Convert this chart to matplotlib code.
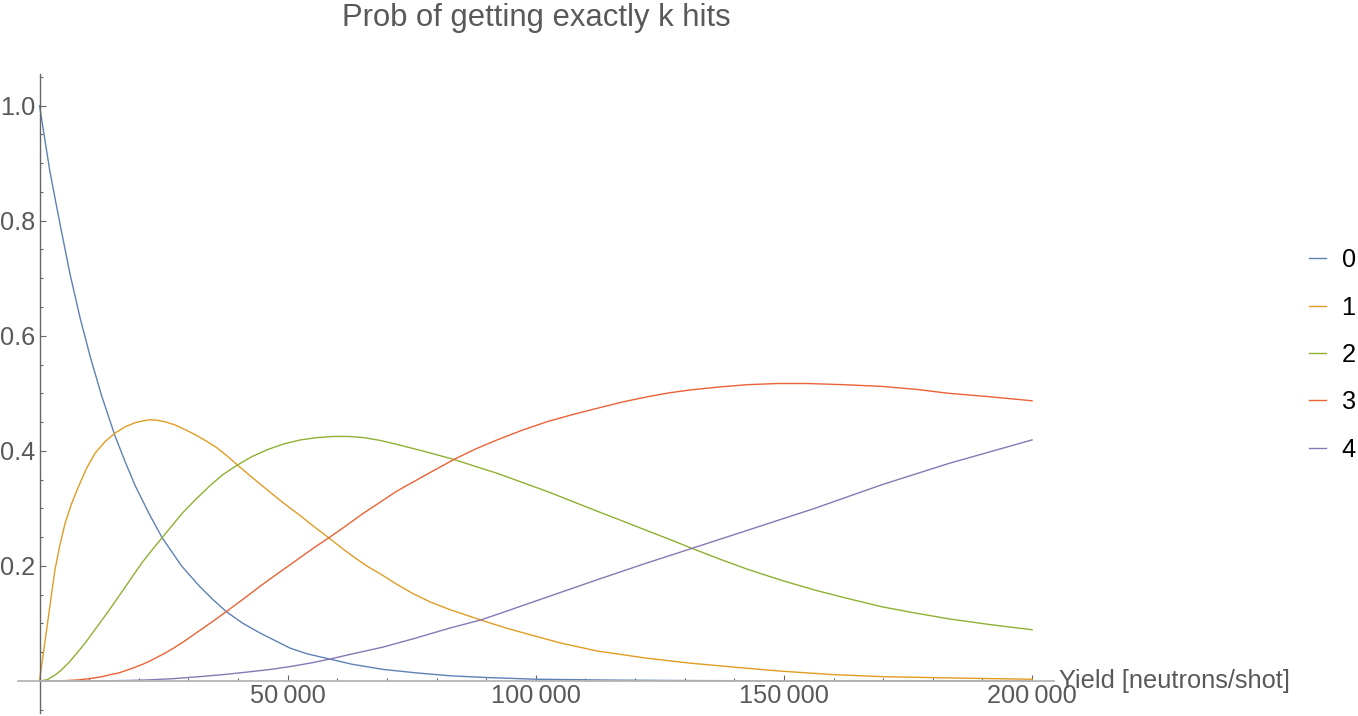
import matplotlib
matplotlib.use("Agg")
import matplotlib.pyplot as plt
from matplotlib.ticker import FixedLocator, MultipleLocator

plt.rcParams["font.family"] = ["Liberation Sans", "DejaVu Sans"]

# Values (yield in neutrons/shot)
k0_x = [0, 1000, 2100, 3300, 4500, 6200, 8200, 10200, 12500, 15250, 17300,
        19300, 22000, 24700, 28700, 32300, 35000, 37700, 41000, 44500, 50500,
        54000, 58500, 63000, 69300, 76000, 82700, 90000, 100000, 115000,
        130000, 150000, 200000]
k0_y = [1.0, 0.945, 0.885, 0.831, 0.778, 0.705, 0.630, 0.564, 0.496, 0.425,
        0.380, 0.339, 0.292, 0.249, 0.199, 0.164, 0.141, 0.120, 0.100, 0.083,
        0.057, 0.047, 0.038, 0.029, 0.020, 0.014, 0.009, 0.006, 0.003, 0.0015,
        0.0007, 0.0002, 0.0]

k1_x = [0, 300, 730, 1200, 1800, 2400, 3100, 4100, 5150, 6400, 7850, 9500,
        11200, 13200, 15250, 17300, 19300, 20800, 22300, 23800, 25500, 27300,
        29300, 31400, 33600, 35800, 37800, 39800, 42800, 45900, 49200, 52600,
        55500, 58400, 61200, 63900, 66300, 68700, 72000, 75000, 78800, 82700,
        88900, 94000, 99000, 105000, 112400, 122000, 131000, 140000, 149500,
        160000, 169700, 185000, 200000]
k1_y = [0.0, 0.020, 0.045, 0.075, 0.112, 0.150, 0.193, 0.236, 0.274, 0.307,
        0.338, 0.370, 0.396, 0.416, 0.431, 0.442, 0.449, 0.452, 0.454, 0.453,
        0.450, 0.445, 0.437, 0.428, 0.417, 0.405, 0.391, 0.376, 0.354, 0.332,
        0.309, 0.287, 0.267, 0.248, 0.229, 0.212, 0.198, 0.186, 0.168, 0.153,
        0.137, 0.124, 0.106, 0.092, 0.080, 0.066, 0.052, 0.040, 0.031, 0.024,
        0.017, 0.011, 0.0075, 0.005, 0.003]

k2_x = [0, 1500, 3100, 4400, 5800, 7500, 9200, 10900, 12600, 14600, 16600,
        18600, 20600, 22700, 24700, 26700, 28700, 31400, 34400, 37000, 39800,
        42800, 45900, 49200, 52600, 55900, 59300, 62300, 65300, 68700, 72100,
        78000, 83500, 87800, 92200, 97300, 102400, 107400, 112400, 117500,
        122500, 127000, 131600, 137000, 142700, 149500, 156200, 163000,
        169700, 176500, 183200, 191500, 200000]
k2_y = [0.0, 0.002, 0.010, 0.019, 0.031, 0.048, 0.066, 0.086, 0.106, 0.130,
        0.155, 0.180, 0.205, 0.228, 0.249, 0.270, 0.291, 0.315, 0.340, 0.359,
        0.375, 0.390, 0.402, 0.412, 0.419, 0.423, 0.425, 0.425, 0.423, 0.418,
        0.411, 0.398, 0.385, 0.373, 0.361, 0.345, 0.329, 0.312, 0.295, 0.278,
        0.261, 0.246, 0.230, 0.212, 0.194, 0.175, 0.158, 0.143, 0.129, 0.118,
        0.108, 0.098, 0.089]

k3_x = [0, 5000, 8000, 10500, 12600, 14300, 16000, 17700, 19300, 20800,
        22300, 25000, 27000, 29000, 31000, 33000, 35300, 37700, 41000, 44500,
        48200, 51800, 55200, 58500, 61800, 65000, 68500, 72000, 77800, 83500,
        87800, 92200, 97300, 102400, 107400, 112400, 117500, 122500, 127000,
        131300, 137000, 142700, 148700, 154800, 162000, 169700, 176500,
        183200, 191500, 200000]
k3_y = [0.0, 0.0005, 0.002, 0.0045, 0.0075, 0.011, 0.014, 0.019, 0.024,
        0.029, 0.035, 0.047, 0.057, 0.068, 0.080, 0.092, 0.106, 0.121, 0.142,
        0.165, 0.188, 0.210, 0.231, 0.250, 0.270, 0.290, 0.310, 0.330, 0.358,
        0.385, 0.403, 0.419, 0.436, 0.451, 0.463, 0.474, 0.485, 0.494, 0.501,
        0.506, 0.511, 0.515, 0.517, 0.517, 0.515, 0.512, 0.507, 0.500, 0.494,
        0.487]

k4_x = [0, 10000, 15000, 18600, 22300, 27000, 32300, 37000, 42400, 46500,
        50500, 54500, 58500, 63000, 69300, 76000, 82700, 88900, 94000, 99000,
        105700, 112400, 122000, 131300, 142700, 156200, 169700, 183200, 200000]
k4_y = [0.0, 0.0, 0.0005, 0.001, 0.002, 0.004, 0.0075, 0.011, 0.016, 0.020,
        0.025, 0.031, 0.038, 0.047, 0.059, 0.075, 0.092, 0.106, 0.121, 0.136,
        0.156, 0.176, 0.204, 0.230, 0.262, 0.300, 0.341, 0.378, 0.419]

series_labels = ["0", "1", "2", "3", "4"]
x_tick_values = [50000, 100000, 150000, 200000]
x_tick_labels = ["50\u2009000", "100\u2009000", "150\u2009000", "200\u2009000"]
y_tick_values = [0.2, 0.4, 0.6, 0.8, 1.0]
y_tick_labels = ["0.2", "0.4", "0.6", "0.8", "1.0"]

# Mathematica default palette (ColorData[97])
COLORS = ["#5E81B5", "#E19C24", "#8FB032", "#EB6235", "#8778B3"]
TEXT_GRAY = "#595959"
FONT_TICK = 18.3
FONT_TITLE = 22.3

fig = plt.figure(figsize=(13.58, 7.16), dpi=100)
ax = fig.add_axes([18.2 / 1358, 0.00475, 1036.2 / 1358, 0.8919])

curves = [(k0_x, k0_y), (k1_x, k1_y), (k2_x, k2_y), (k3_x, k3_y), (k4_x, k4_y)]
for (xs, ys), color, label in zip(curves, COLORS, series_labels):
    ax.plot(xs, ys, color=color, lw=1.0, label=label, solid_joinstyle="round")

ax.set_xlim(-4300, 204500)
ax.set_ylim(-0.055, 1.055)

# Axes crossing at the origin, Mathematica style
for side in ("top", "right"):
    ax.spines[side].set_visible(False)
ax.spines["left"].set_position(("data", 0))
ax.spines["bottom"].set_position(("data", 0))
ax.spines["left"].set_color("#666666")
ax.spines["bottom"].set_color("#b5b5b5")
ax.spines["left"].set_linewidth(1.0)
ax.spines["bottom"].set_linewidth(1.3)

ax.xaxis.set_major_locator(FixedLocator(x_tick_values))
ax.xaxis.set_minor_locator(MultipleLocator(10000))
ax.set_xticklabels(x_tick_labels)
ax.yaxis.set_major_locator(FixedLocator(y_tick_values))
ax.yaxis.set_minor_locator(MultipleLocator(0.05))
ax.set_yticklabels(y_tick_labels)

ax.tick_params(which="both", direction="in", color="#666666", width=0.8,
               labelsize=FONT_TICK, labelcolor=TEXT_GRAY)
ax.tick_params(which="major", length=4)
ax.tick_params(which="minor", length=2.2)
ax.tick_params(axis="x", pad=2.5)
ax.tick_params(axis="y", pad=3)

# Axis label sits at the right end of the x axis
ax.text(1.004, 0.0, "Yield [neutrons/shot]", transform=ax.get_yaxis_transform(),
        ha="left", va="center", fontsize=FONT_TICK, color=TEXT_GRAY)
fig.text(536 / 1358, 1 - 18 / 716, "Prob of getting exactly k hits",
         ha="center", va="center", fontsize=FONT_TITLE, color=TEXT_GRAY)

fig.legend(loc="center left", bbox_to_anchor=(1309 / 1358, 1 - 355 / 716),
           frameon=False, fontsize=FONT_TICK, handlelength=0.68,
           handletextpad=0.6, labelspacing=0.92, borderpad=0,
           borderaxespad=0)

fig.savefig("out.png", dpi=100)
